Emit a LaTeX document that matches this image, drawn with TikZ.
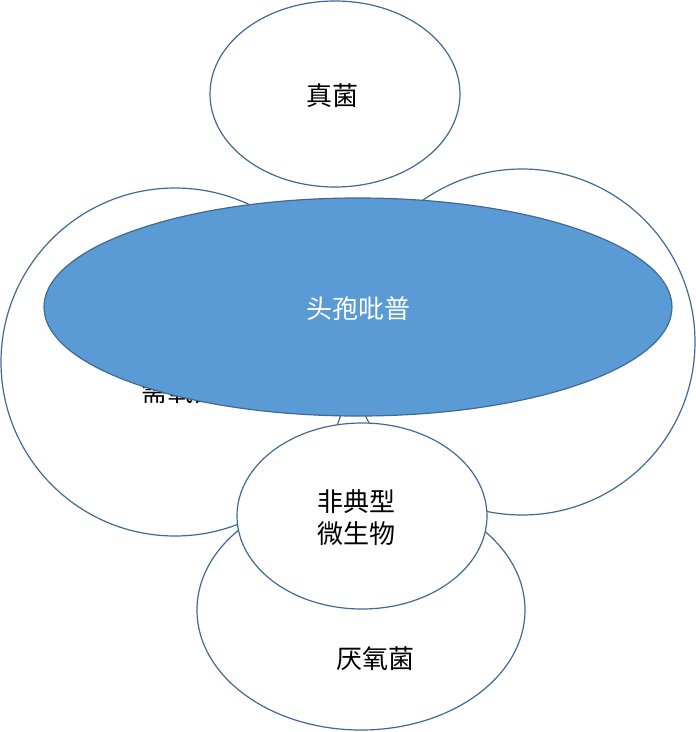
\documentclass[tikz,border=0pt]{standalone}
\usepackage{fontspec}
\newfontfamily\cjk{Noto Sans CJK SC}
\begin{document}
\begin{tikzpicture}[x=1pt,y=-1pt,
  bub/.style={draw=blue!40!black!70!white,draw={rgb,255:red,65;green,105;blue,150},line width=1.2pt,fill=white},
  lbl/.style={font=\cjk\fontsize{26}{32}\selectfont,align=center}]
\useasboundingbox (0,0) rectangle (696,732);
\path[bub] (361,610) ellipse [x radius=164,y radius=120];
\node[lbl] (ana) at (375,659) {厌氧菌};
\path[bub] (175,362) ellipse [x radius=174,y radius=174];
\node[lbl] (aer) at (180,392) {需氧菌};
\path[bub] (522,342) ellipse [x radius=173,y radius=173];
\node[lbl] (oth) at (530,378) {兼性菌};
\path[bub] (335,94) ellipse [x radius=125,y radius=93];
\node[lbl] (fun) at (332,96) {真菌};
\path[bub] (362,516) ellipse [x radius=125,y radius=93];
\node[lbl] (aty) at (356,518) {非典型\\微生物};
\path[bub,fill={rgb,255:red,91;green,155;blue,213}] (358,307) ellipse [x radius=314,y radius=109];
\node[lbl,text=white] (ceph) at (358,309) {头孢吡普};
\end{tikzpicture}
\end{document}
